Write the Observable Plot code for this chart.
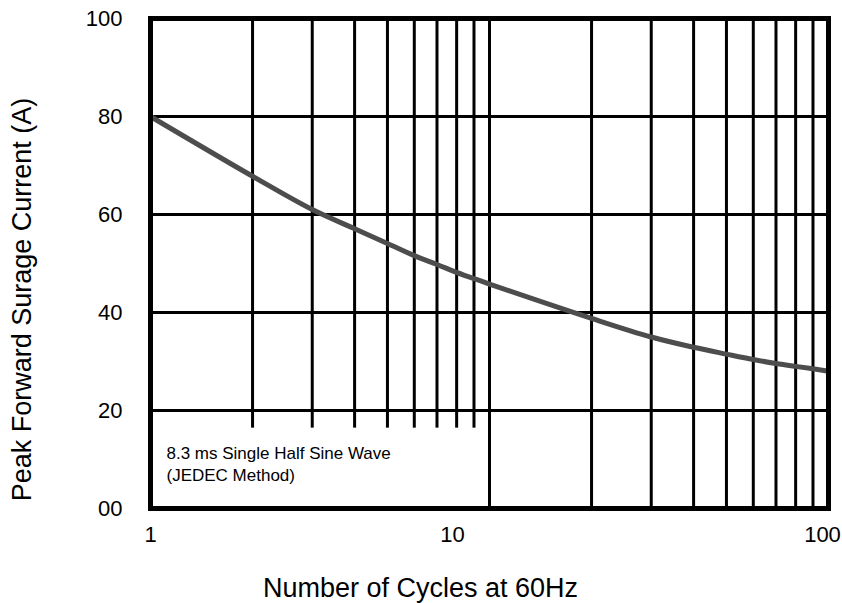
<!DOCTYPE html>
<html>
<head>
<meta charset="utf-8">
<script src="https://cdn.jsdelivr.net/npm/d3@7"></script>
<script src="https://cdn.jsdelivr.net/npm/@observablehq/plot@0.6"></script>
<style>
  html, body { margin: 0; padding: 0; background: #fff; }
  #chart svg { display: block; }
</style>
</head>
<body>
<div id="chart"></div>
<script>
// ---- data ----
const cycles  = [1, 2, 3, 4, 5, 6, 7, 8, 9, 10, 20, 30, 40, 50, 60, 70, 80, 90, 100];
const current = [80, 67.8, 61, 57.1, 54.1, 51.6, 49.8, 48.2, 46.9, 45.8, 38.8, 35, 32.9, 31.5, 30.4, 29.6, 29, 28.5, 28];
const xGrid = [2, 3, 4, 5, 6, 7, 8, 9, 10, 20, 30, 40, 50, 60, 70, 80, 90];
const yGrid = [20, 40, 60, 80];
const yTicks = [0, 20, 40, 60, 80, 100];
const xTickLabels = ["1", "10", "100"];
const xTicks = [1, 10, 100];
const noteLines = "8.3 ms Single Half Sine Wave\n(JEDEC Method)";
const noteBox = [{x1: 1, x2: 9.8, y1: 0, y2: 16.4}];
const xTitle = "Number of Cycles at 60Hz";
const yTitle = "Peak Forward Surage Current (A)";

const series = cycles.map((c, i) => ({cycles: c, current: current[i]}));
const font = "Liberation Sans, Arial, Helvetica, sans-serif";

const tickLabelOffsets = [0, -37, -6];

const chart = Plot.plot({
  width: 842,
  height: 603,
  marginTop: 18,
  marginBottom: 95,
  marginLeft: 150,
  marginRight: 14,
  style: {fontFamily: font, background: "#fff", color: "#000"},
  x: {type: "log", domain: [1, 100], axis: null},
  y: {domain: [0, 100], axis: null},
  marks: [
    Plot.ruleX(xGrid, {stroke: "#000", strokeWidth: 3}),
    Plot.ruleY(yGrid, {stroke: "#000", strokeWidth: 3}),
    Plot.rect(noteBox, {x1: "x1", x2: "x2", y1: "y1", y2: "y2", fill: "#fff"}),
    Plot.text([noteLines], {
      x: () => 1, y: () => 13.4, frameAnchor: "left", dx: 16,
      textAnchor: "start", lineAnchor: "top", lineHeight: 1.3,
      fontSize: 17, fill: "#000"
    }),
    Plot.line(series, {x: "cycles", y: "current", stroke: "#4d4d4d", strokeWidth: 5, curve: "catmull-rom", strokeLinecap: "round"}),
    Plot.frame({stroke: "#000", strokeWidth: 5}),
    ...xTicks.map((t, i) => Plot.axisX({
      ticks: [t], tickSize: 0, tickPadding: 18, fontSize: 22, label: null,
      tickFormat: () => xTickLabels[i], dx: tickLabelOffsets[i]
    })),
    Plot.axisY({
      ticks: yTicks, tickSize: 0, tickPadding: 28, fontSize: 22, label: null,
      tickFormat: d => d === 0 ? "00" : String(d)
    }),
    Plot.text([xTitle], {
      frameAnchor: "bottom", dx: -69, dy: 88, lineAnchor: "bottom",
      fontSize: 27, fill: "#000"
    }),
    Plot.text([yTitle], {
      frameAnchor: "left", rotate: -90, dx: -128, dy: 36,
      textAnchor: "middle", fontSize: 27, fill: "#000"
    })
  ]
});
document.getElementById("chart").appendChild(chart);
</script>
</body>
</html>
